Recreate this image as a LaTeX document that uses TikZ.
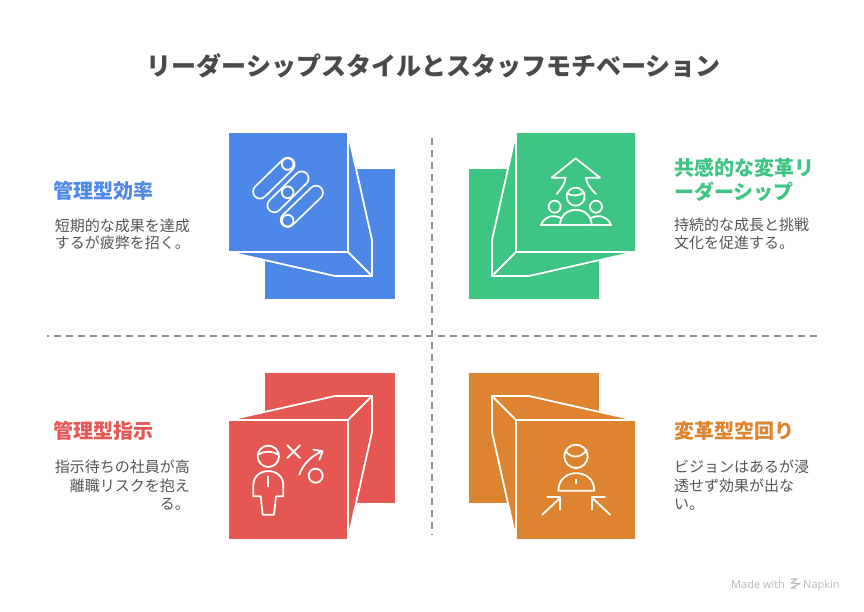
\documentclass[tikz,border=0pt]{standalone}
\usepackage{fontspec}
\setmainfont{Noto Sans CJK JP}
\newfontfamily\footfont{Open Sans}
\definecolor{cblue}{HTML}{4D88E8}
\definecolor{cgreen}{HTML}{3EC483}
\definecolor{cred}{HTML}{E55753}
\definecolor{corange}{HTML}{DE8430}
\definecolor{ink}{HTML}{4A4A4A}
\definecolor{body}{HTML}{555555}
\definecolor{rule}{HTML}{919191}
\definecolor{foot}{HTML}{B8B8B8}
\tikzset{
  titletext/.style={anchor=base,inner sep=0pt,font=\fontsize{25}{25}\selectfont\bfseries,text=ink},
  headl/.style={anchor=base west,inner sep=0pt,font=\fontsize{20}{20}\selectfont\bfseries},
  bodyl/.style={anchor=base west,inner sep=0pt,font=\fontsize{15}{15}\selectfont,text=body},
  bodyr/.style={anchor=base east,inner sep=0pt,font=\fontsize{15}{15}\selectfont,text=body},
  divider/.style={draw=rule,line width=2pt,dash pattern=on 6.7pt off 5.3pt},
  edge3d/.style={draw=white,line width=1.8pt,line join=miter},
  ico/.style={draw=white,line width=1.8pt,line join=round,line cap=round},
  capsule/.style={draw=white,line width=1.8pt,double distance=12pt,line cap=round},
}
\begin{document}
\begin{tikzpicture}[x=1pt,y=-1pt]
\useasboundingbox (0,0) rectangle (864,612);
\fill[white] (0,0) rectangle (864,612);
\node[titletext] (title) at (433.5,75.5) {リーダーシップスタイルとスタッフモチベーション};
% dividers
\draw[divider] (432,138) -- (432,535);
\draw[divider] (817,336) -- (47,336);
% blue
\fill[cblue] (265,169) rectangle (395,299);
\filldraw[edge3d,fill=cblue] (348,133) -- (372,240) -- (372,276) -- (335,276) -- (229,252) -- (348,252) -- cycle;
\draw[edge3d] (348,252) -- (372,276);
\fill[cblue] (229,133) rectangle (347,251);
\begin{scope}[shift={(245,150)},x=.33333pt,y=-.33333pt]
  \draw[capsule,double=cblue] (128,44) -- (45,125);
  \draw[capsule,double=cblue] (170,85) -- (88,166);
  \draw[capsule,double=cblue] (213,128) -- (128,210);
  \draw[ico] (128,42) circle (17.5);
  \draw[ico] (128,127) circle (17.5);
  \draw[ico] (128,212) circle (17.5);
\end{scope}
\node[headl,text=cblue] (h1) at (53.5,199) {管理型効率};
\node[bodyr] (b1a) at (190,231.5) {短期的な成果を達成};
\node[bodyr] (b1b) at (190,248.5) {するが疲弊を招く。};
% green
\fill[cgreen] (469,169) rectangle (599,299);
\filldraw[edge3d,fill=cgreen] (516,133) -- (492,240) -- (492,276) -- (529,276) -- (635,252) -- (516,252) -- cycle;
\draw[edge3d] (516,252) -- (492,276);
\fill[cgreen] (517,133) rectangle (635,251);
\begin{scope}[shift={(535,150)},x=.33333pt,y=-.33333pt]
  \draw[ico] (65,132) .. controls (80,115) and (90,100) .. (92,83) -- (50,83) -- (122,25) -- (195,83) -- (153,83) .. controls (155,100) and (165,115) .. (183,132);
  \draw[ico] (122,140) circle (27);
  \draw[ico] (97,130) .. controls (112,140) and (130,138) .. (148,127);
  \draw[ico] (59,170) circle (18);
  \draw[ico] (183,170) circle (18);
  \draw[ico] (18,226) -- (228,226);
  \draw[ico] (75,226) .. controls (75,164) and (170,164) .. (170,226);
  \draw[ico] (18,226) .. controls (24,205) and (52,188) .. (80,206);
  \draw[ico] (228,226) .. controls (222,205) and (194,188) .. (165,206);
\end{scope}
\node[headl,text=cgreen] (h2a) at (674,175.7) {共感的な変革リ};
\node[headl,text=cgreen] (h2b) at (674,199.7) {ーダーシップ};
\node[bodyl] (b2a) at (674,230.5) {持続的な成長と挑戦};
\node[bodyl] (b2b) at (674,248.8) {文化を促進する。};
% red
\fill[cred] (265,373) rectangle (395,503);
\filldraw[edge3d,fill=cred] (348,539) -- (372,432) -- (372,396) -- (335,396) -- (229,420) -- (348,420) -- cycle;
\draw[edge3d] (348,420) -- (372,396);
\fill[cred] (229,421) rectangle (347,539);
\begin{scope}[shift={(250,438)},x=.33333pt,y=-.33333pt]
  \draw[ico] (55,55) circle (32);
  \draw[ico] (24,50) .. controls (42,38) and (68,38) .. (86,50);
  \draw[ico] (10,175) -- (10,142) .. controls (10,85) and (100,85) .. (100,142) -- (100,175) -- (78,175) -- (72,230) -- (38,230) -- (32,175) -- cycle;
  \draw[ico] (55,115) -- (55,145);
  \draw[ico] (112,22) -- (150,60);
  \draw[ico] (150,22) -- (112,60);
  \draw[ico] (148,110) .. controls (158,80) and (182,55) .. (216,40);
  \draw[ico] (190,35) -- (218,40) -- (208,65);
  \draw[ico] (197,113) circle (21);
\end{scope}
\node[headl,text=cred] (h3) at (53.5,438) {管理型指示};
\node[bodyr] (b3a) at (190,472.5) {指示待ちの社員が高};
\node[bodyr] (b3b) at (190,491) {離職リスクを抱え};
\node[bodyr] (b3c) at (190,509.5) {る。};
% orange
\fill[corange] (469,373) rectangle (599,503);
\filldraw[edge3d,fill=corange] (516,539) -- (492,432) -- (492,396) -- (529,396) -- (635,420) -- (516,420) -- cycle;
\draw[edge3d] (516,420) -- (492,396);
\fill[corange] (517,421) rectangle (635,539);
\begin{scope}[shift={(535,438)},x=.33333pt,y=-.33333pt]
  \draw[ico] (123,55) circle (35);
  \draw[ico] (92,38) .. controls (105,62) and (140,62) .. (155,35);
  \draw[ico] (70,158) -- (178,158) .. controls (178,88) and (70,88) .. (70,158) -- cycle;
  \draw[ico] (123,125) -- (123,137);
  \draw[ico] (22,230) -- (75,180);
  \draw[ico] (37,178) -- (75,178) -- (75,215);
  \draw[ico] (225,230) -- (172,180);
  \draw[ico] (210,178) -- (172,178) -- (172,215);
\end{scope}
\node[headl,text=corange] (h4) at (674,438) {変革型空回り};
\node[bodyl] (b4a) at (674,472.5) {ビジョンはあるが浸};
\node[bodyl] (b4b) at (674,491) {透せず効果が出な};
\node[bodyl] (b4c) at (674,509.5) {い。};
% footer
\node[anchor=base west,inner sep=0pt,font=\footfont\fontsize{11}{11}\selectfont,text=foot] (made) at (731,588) {Made with};
\node[anchor=base west,inner sep=0pt,font=\footfont\fontsize{11}{11}\selectfont,text=foot] (nap) at (803,588) {Napkin};
\draw[foot,line width=1.1pt,line join=round] (791,579) -- (797,579) -- (791,583) -- (800,583.5) -- (791,588) -- (796,588);
\end{tikzpicture}
\end{document}
